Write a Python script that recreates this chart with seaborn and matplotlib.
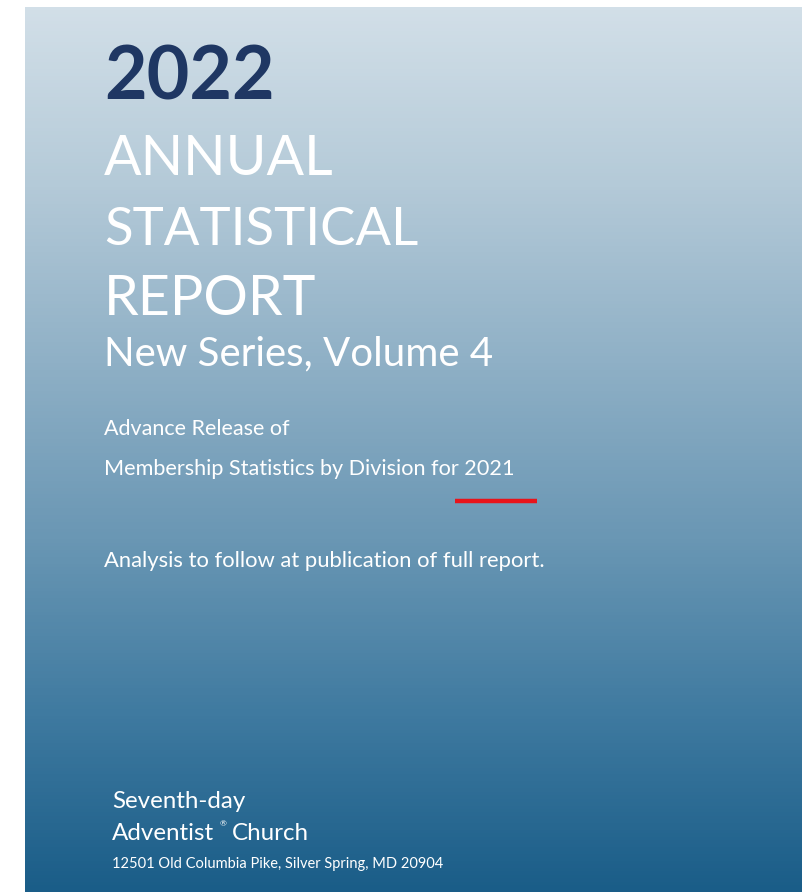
import matplotlib
matplotlib.use('Agg')
import matplotlib.pyplot as plt
import seaborn as sns
import numpy as np

# Cover text lines
title_year = '2022'
title_lines = ['ANNUAL', 'STATISTICAL', 'REPORT']
subtitle = 'New Series, Volume 4'
release_lines = ['Advance Release of', 'Membership Statistics by Division for 2021']
note = 'Analysis to follow at publication of full report.'
org_lines = ['Seventh-day', 'Adventist', 'Church']
address = '12501 Old Columbia Pike, Silver Spring, MD 20904'

# Gradient colour stops, top to bottom
gradient_stops = ['#d2dfe8', '#b4cad8', '#8fb0c6', '#6a97b4', '#3f7aa0', '#1a5d88']

W, H = 805, 892
sns.set_theme(style='white')
plt.rcParams['font.family'] = ['Lato', 'DejaVu Sans']

fig = plt.figure(figsize=(W / 100, H / 100), dpi=100)
ax = fig.add_axes([0, 0, 1, 1])
ax.set_xlim(0, W)
ax.set_ylim(H, 0)
ax.axis('off')

# Background panel with vertical gradient
cmap = sns.blend_palette(gradient_stops, as_cmap=True)
grad = np.linspace(0, 1, 256).reshape(-1, 1)
ax.imshow(grad, cmap=cmap, aspect='auto', extent=(25, 801, H, 7), zorder=0)

white = '#ffffff'
ax.text(104, 100, title_year, fontsize=53, fontweight='bold', color='#1f3763', va='baseline')
title_sizes = [40, 38, 40]
for i, line in enumerate(title_lines):
    ax.text(104, 175 + i * 70, line, fontsize=title_sizes[i], color=white, va='baseline')
ax.text(104, 365, subtitle, fontsize=29, color=white, va='baseline')
ax.text(104, 435, release_lines[0], fontsize=15.5, color=white, va='baseline')
ax.text(104, 475, release_lines[1], fontsize=15.6, color=white, va='baseline')

# Red underline mark
sns.lineplot(x=[455, 537], y=[501, 501], color='#e8141b', linewidth=3.2,
             solid_capstyle='butt', ax=ax)

ax.text(104, 567, note, fontsize=15.8, color=white, va='baseline')

ax.text(112, 808, org_lines[0], fontsize=17.4, color=white, va='baseline')
ax.text(112, 840, org_lines[1], fontsize=17.4, color=white, va='baseline')
ax.text(220, 826, '®', fontsize=6, color=white, va='baseline')
ax.text(232, 840, org_lines[2], fontsize=17.4, color=white, va='baseline')
ax.text(112, 868, address, fontsize=10.5, color=white, va='baseline')

fig.savefig('out.png', dpi=100)
